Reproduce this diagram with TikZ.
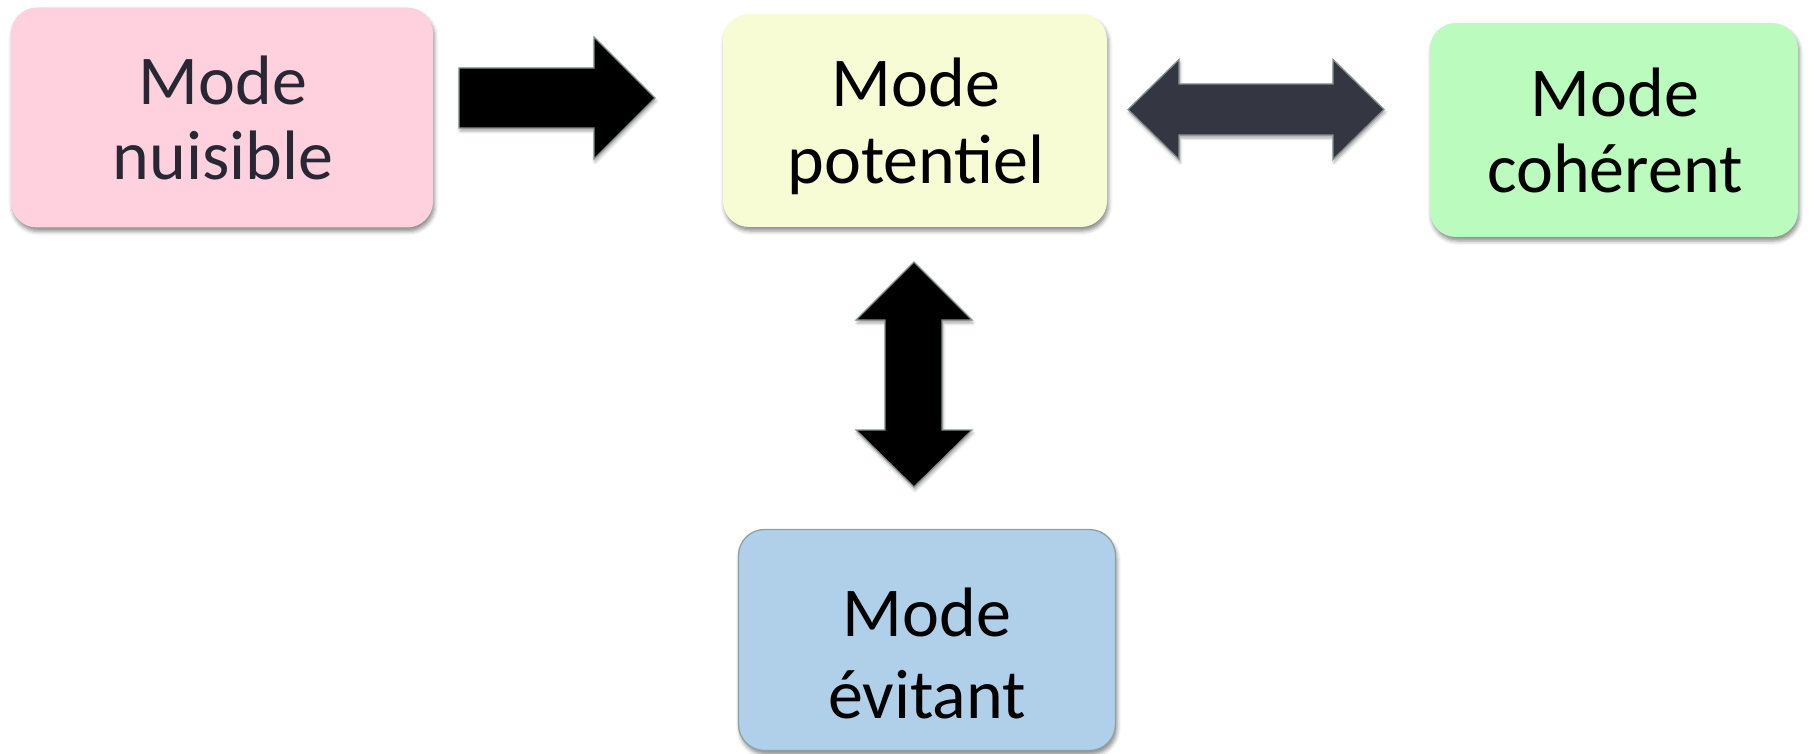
\documentclass[tikz,border=0pt]{standalone}
\usepackage{fontspec}
\setmainfont{Carlito}
\usetikzlibrary{shadows.blur}

\definecolor{pinkfill}{RGB}{255,209,222}
\definecolor{yellowfill}{RGB}{248,252,212}
\definecolor{greenfill}{RGB}{188,251,190}
\definecolor{bluefill}{RGB}{176,207,232}
\definecolor{slatearrow}{RGB}{52,54,66}
\definecolor{pinkink}{RGB}{40,40,52}
\definecolor{arrowedge}{RGB}{130,146,142}
\definecolor{blueedge}{RGB}{141,161,163}

% two centred lines, first baseline is the box baseline
\newcommand\modetext[3]{\vtop{\baselineskip=#3\lineskiplimit=-1000pt\relax
  \halign{\hfil##\hfil\cr#1\cr#2\cr}}}

\tikzset{
  modebox/.style={rectangle, rounded corners=26pt, inner sep=0pt, draw=none,
    blur shadow={shadow xshift=1.5pt, shadow yshift=-4pt, shadow blur radius=4pt, shadow opacity=45}},
  lbl/.style={anchor=base, inner sep=0pt, font=\fontsize{70}{77}\selectfont},
  blockarrow/.style={draw=arrowedge, line width=1.3pt, line join=miter,
    blur shadow={shadow xshift=1pt, shadow yshift=-3pt, shadow blur radius=3pt, shadow opacity=35}}
}

\begin{document}
\begin{tikzpicture}[x=1pt, y=-1pt]
\useasboundingbox (0,0) rectangle (1810,754);

% boxes
\node[modebox, fill=pinkfill, minimum width=422pt, minimum height=220pt] (nuis) at (222,117.5) {};
\node[modebox, fill=yellowfill, minimum width=384pt, minimum height=213pt] (pot) at (915,120.5) {};
\node[modebox, fill=greenfill, minimum width=368pt, minimum height=214pt] (coh) at (1614,130) {};
\node[modebox, fill=bluefill, draw=blueedge, line width=1.3pt, minimum width=377pt, minimum height=221pt] (evit) at (927,640) {};

% labels
\node[lbl, text=pinkink] (nuisT) at (223,105) {\modetext{Mode}{nuisible}{75pt}};
\node[lbl] (potT) at (916,107) {\modetext{Mode}{potentiel}{77pt}};
\node[lbl] (cohT) at (1615,117) {\modetext{Mode}{cohérent}{76pt}};
\node[lbl] (evitT) at (927,636) {\modetext{Mode}{évitant}{82pt}};

% block arrows
\draw[blockarrow, fill=black]
  (459,68) -- (594,68) -- (594,37) -- (655,98) -- (594,159) -- (594,128) -- (459,128) -- cycle;
\draw[blockarrow, fill=slatearrow]
  (1128,109.5) -- (1179,59.5) -- (1179,84) -- (1333,84) -- (1333,59.5) -- (1384,109.5)
  -- (1333,159.5) -- (1333,135) -- (1179,135) -- (1179,159.5) -- cycle;
\draw[blockarrow, fill=black]
  (914,262) -- (972,320) -- (942,320) -- (942,430) -- (972,430) -- (914,487)
  -- (856,430) -- (885,430) -- (885,320) -- (856,320) -- cycle;
\end{tikzpicture}
\end{document}
